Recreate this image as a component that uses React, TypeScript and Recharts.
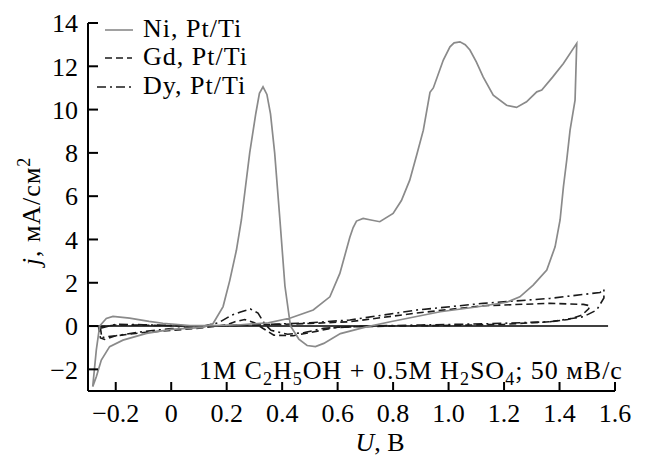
import React from "react";
import { LineChart, Line, XAxis, YAxis, ReferenceLine, Customized } from "recharts";

// Ni, Pt/Ti (solid grey) — potential U (V) and current density j (mA/cm2), in scan order
const niU = [
  -0.283, -0.27, -0.258, -0.234, -0.21, -0.15, -0.08, -0.03, 0.067, 0.15, 0.25, 0.35, 0.43, 0.512, 0.572,
  0.608, 0.644, 0.656, 0.668, 0.692, 0.72, 0.752, 0.8, 0.83, 0.86, 0.885, 0.909, 0.933, 0.945, 0.981, 1.005,
  1.02, 1.041, 1.06, 1.077, 1.1, 1.125, 1.161, 1.209, 1.245, 1.281, 1.318, 1.336, 1.375, 1.414, 1.462,
  1.456, 1.438, 1.426, 1.414, 1.402, 1.384, 1.354, 1.305, 1.257, 1.21, 1.1, 0.97, 0.79, 0.7, 0.61, 0.55,
  0.52, 0.49, 0.46, 0.43, 0.41, 0.392, 0.373, 0.358, 0.345, 0.331, 0.318, 0.305, 0.283, 0.253, 0.235,
  0.211, 0.187, 0.151, 0.115, 0.0, -0.089, -0.174, -0.222, -0.252, -0.27, -0.283,
];
const niJ = [
  -2.8, -1.1, 0, 0.35, 0.45, 0.37, 0.22, 0.13, 0.02, 0.02, 0.06, 0.15, 0.37, 0.74, 1.35,
  2.43, 4.1, 4.55, 4.85, 4.97, 4.9, 4.82, 5.2, 5.8, 6.74, 7.9, 9.05, 10.8, 11.0, 12.29, 12.9,
  13.08, 13.13, 13.0, 12.75, 12.2, 11.5, 10.67, 10.2, 10.1, 10.36, 10.82, 10.9, 11.5, 12.13, 13.06,
  10.44, 9.05, 7.67, 6.43, 4.9, 3.66, 2.59, 1.89, 1.35, 1.1, 0.88, 0.66, 0.2, -0.05, -0.35, -0.8,
  -0.95, -0.9, -0.6, 0, 1.85, 4.9, 8, 9.8, 10.7, 11.05, 10.75, 9.82, 8, 4.9, 3.5,
  2.1, 0.9, 0.12, -0.06, -0.15, -0.34, -0.65, -0.95, -1.57, -2.34, -2.8,
];

// Gd, Pt/Ti (dashed black)
const gdU = [
  -0.262, -0.2, -0.1, 0.0, 0.1, 0.2, 0.3, 0.4, 0.5, 0.644, 0.885, 1.125, 1.366, 1.486, 1.51,
  1.505, 1.48, 1.43, 1.366, 1.2, 1.0, 0.8, 0.6, 0.5, 0.44, 0.37, 0.33, 0.3, 0.265, 0.23, 0.2, 0.1, 0.0,
  -0.1, -0.2, -0.24, -0.255, -0.262,
];
const gdJ = [
  -0.05, 0.05, 0.04, 0.02, 0.0, 0.02, 0.05, 0.08, 0.12, 0.2, 0.6, 0.94, 1.05, 1.0, 0.94,
  0.8, 0.5, 0.3, 0.2, 0.08, 0.03, 0.0, -0.05, -0.3, -0.45, -0.42, -0.1, 0.15, 0.3, 0.2, 0.05, -0.1, -0.2,
  -0.3, -0.45, -0.62, -0.55, -0.05,
];

// Dy, Pt/Ti (dash-dot black)
const dyU = [
  -0.255, -0.2, -0.1, 0.0, 0.1, 0.2, 0.3, 0.4, 0.5, 0.644, 0.885, 1.125, 1.366, 1.546, 1.56,
  1.56, 1.534, 1.486, 1.366, 1.125, 0.9, 0.7, 0.55, 0.48, 0.42, 0.36, 0.337, 0.313, 0.285, 0.25, 0.217,
  0.17, 0.1, 0.0, -0.1, -0.2, -0.24, -0.25, -0.255,
];
const dyJ = [
  -0.1, 0.08, 0.06, 0.03, 0.0, 0.02, 0.05, 0.1, 0.15, 0.28, 0.74, 1.05, 1.28, 1.55, 1.7,
  1.3, 0.74, 0.43, 0.2, 0.1, 0.05, 0.0, -0.1, -0.3, -0.38, -0.2, 0.1, 0.6, 0.79, 0.65, 0.5,
  0.15, -0.05, -0.12, -0.25, -0.45, -0.5, -0.55, -0.1,
];

const xTicks = [-0.2, 0, 0.2, 0.4, 0.6, 0.8, 1.0, 1.2, 1.4, 1.6];
const yTicks = [-2, 0, 2, 4, 6, 8, 10, 12, 14];
const legendLabels = ["Ni, Pt/Ti", "Gd, Pt/Ti", "Dy, Pt/Ti"];

const toPoints = (us: number[], js: number[]) => us.map((u, i) => ({ u, j: js[i] }));
const niData = toPoints(niU, niJ);
const gdData = toPoints(gdU, gdJ);
const dyData = toPoints(dyU, dyJ);

const FONT = "'Liberation Serif', 'Times New Roman', serif";
const FS = 26;
const GREY = "#8a8a8a";
const BLACK = "#1a1a1a";
const DASH = "7 4";
const DASHDOT = "9 4 2 4";

const fmtX = (v: number) => (v === 0 ? "0" : (v < 0 ? "\u2212" : "") + Math.abs(v).toFixed(1));
const fmtY = (v: number) => (v < 0 ? "\u2212" + Math.abs(v) : String(v));

const Overlay = () => {
  const sub = { fontSize: 18 };
  return (
    <g fontFamily={FONT} fill="#000">
      {/* legend */}
      <g>
        <line x1={97} x2={125} y1={22} y2={22} stroke={GREY} strokeWidth={1.6} />
        <text x={135} y={29} fontSize={FS} letterSpacing={1}>{legendLabels[0]}</text>
        <line x1={97} x2={124} y1={50} y2={50} stroke={BLACK} strokeWidth={1.6} strokeDasharray={DASH} />
        <text x={135} y={57} fontSize={FS} letterSpacing={1}>{legendLabels[1]}</text>
        <line x1={89} x2={127} y1={79} y2={79} stroke={BLACK} strokeWidth={1.6} strokeDasharray={DASHDOT} />
        <text x={135} y={86} fontSize={FS} letterSpacing={1}>{legendLabels[2]}</text>
      </g>
      {/* conditions annotation */}
      <text x={191} y={371} fontSize={FS} letterSpacing={1}>
        1M C<tspan dy={6} {...sub}>2</tspan>
        <tspan dy={-6}>H</tspan>
        <tspan dy={6} {...sub}>5</tspan>
        <tspan dy={-6}>OH + 0.5M H</tspan>
        <tspan dy={6} {...sub}>2</tspan>
        <tspan dy={-6}>SO</tspan>
        <tspan dy={6} {...sub}>4</tspan>
        <tspan dy={-6}>; 50 мВ/с</tspan>
      </text>
      {/* axis titles */}
      <text x={372} y={443} fontSize={FS} textAnchor="middle">
        <tspan fontStyle="italic">U</tspan>, В
      </text>
      <text x={32} y={203} fontSize={FS} textAnchor="middle" letterSpacing={1} transform="rotate(-90 32 203)">
        <tspan fontStyle="italic">j</tspan>, мА/см
        <tspan dy={-10} fontSize={18}>2</tspan>
      </text>
    </g>
  );
};

export default function App() {
  return (
    <LineChart width={637} height={449} margin={{ top: 15, right: 30, left: 20, bottom: 26 }}>
      <XAxis
        dataKey="u"
        type="number"
        domain={[-0.3, 1.6]}
        ticks={xTicks}
        tickFormatter={fmtX}
        allowDataOverflow
        height={40}
        tickSize={-9}
        tickMargin={22}
        axisLine={{ stroke: "#000", strokeWidth: 2 }}
        tickLine={{ stroke: "#000", strokeWidth: 2 }}
        tick={{ fill: "#000", fontSize: FS, fontFamily: FONT }}
        interval={0}
      />
      <YAxis
        dataKey="j"
        type="number"
        domain={[-3, 14]}
        ticks={yTicks}
        tickFormatter={fmtY}
        allowDataOverflow
        width={60}
        tickSize={-10}
        tickMargin={20}
        axisLine={{ stroke: "#000", strokeWidth: 2 }}
        tickLine={{ stroke: "#000", strokeWidth: 2 }}
        tick={{ fill: "#000", fontSize: FS, fontFamily: FONT }}
        interval={0}
      />
      <ReferenceLine
        segment={[{ x: -0.3, y: 0 }, { x: 1.575, y: 0 }]}
        stroke="#000"
        strokeWidth={1.6}
        ifOverflow="visible"
      />
      <Line data={gdData} dataKey="j" type="linear" dot={false} stroke={BLACK} strokeWidth={1.6} strokeDasharray={DASH} isAnimationActive={false} />
      <Line data={dyData} dataKey="j" type="linear" dot={false} stroke={BLACK} strokeWidth={1.6} strokeDasharray={DASHDOT} isAnimationActive={false} />
      <Line data={niData} dataKey="j" type="linear" dot={false} stroke={GREY} strokeWidth={1.7} isAnimationActive={false} />
      <Customized component={Overlay} />
    </LineChart>
  );
}
